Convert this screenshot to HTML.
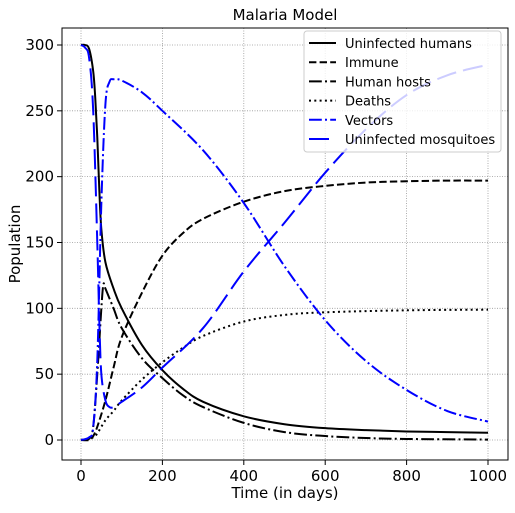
<!DOCTYPE html>
<html><head><meta charset="utf-8"><style>
body{margin:0;background:#fff;}
svg{font-family:"DejaVu Sans","Liberation Sans",sans-serif;}
</style></head><body>
<svg id="chart" width="515" height="508" xmlns="http://www.w3.org/2000/svg">
<rect width="515" height="508" fill="#fff"/>
<text x="285" y="20" font-size="15" text-anchor="middle">Malaria Model</text>
<g id="grid"></g>
<g id="series"></g>
<rect x="62" y="28" width="446" height="432" fill="none" stroke="#000" stroke-width="1"/>
<g id="ticks"></g>
<text x="285" y="498" font-size="15" text-anchor="middle">Time (in days)</text>
<text transform="translate(20,244) rotate(-90)" font-size="15" text-anchor="middle">Population</text>
<g id="legend">
<rect x="304" y="31" width="197" height="121" rx="3" fill="#fff" fill-opacity="0.8" stroke="#ccc"/>
</g>
</svg>
<script>
const xTicks=[0,200,400,600,800,1000];
const yTicks=[0,50,100,150,200,250,300];
const seriesNames=["Uninfected humans","Immune","Human hosts","Deaths","Vectors","Uninfected mosquitoes"];
const uninfDays=[0,10,20,30,35,40,45,50,60,80,100,150,200,250,300,400,500,600,700,800,900,1000];
const uninfVals=[300,300,297,280,260,230,190,160,135,115,100,72,53,39,29,18,12,9,7.5,6.5,6,5.5];
const immuneDays=[0,20,30,40,60,80,100,150,200,250,300,400,500,600,700,800,900,1000];
const immuneVals=[0,0,3,10,30,55,78,112,140,157,168,181,189,193,195.5,196.5,197,197];
const hostDays=[0,20,30,40,50,55,60,80,100,150,200,250,300,400,500,600,700,800,1000];
const hostVals=[0,1,10,50,100,118,115,100,85,62,47,34,25,13,6,3,1.5,0.8,0.3];
const deathDays=[0,30,40,60,80,100,150,200,250,300,400,500,600,800,1000];
const deathVals=[0,2,5,15,22,30,46,59,70,79,90,95,97,98.5,99];
const vecDays=[0,20,30,40,50,60,70,80,100,150,200,300,400,500,600,700,800,900,1000];
const vecVals=[0,2,10,60,180,255,272,274,273,264,250,220,180,132,91,60,38,22,14];
const mosqDays=[0,10,20,30,40,45,50,60,70,80,100,150,200,300,400,500,600,700,800,900,1000];
const mosqVals=[300,298,290,250,150,90,50,30,25,25,29,40,55,85,128,165,203,236,262,277,285];

const X=d=>81+d*0.407, Y=v=>440-v*1.3167;
const NS="http://www.w3.org/2000/svg";
function mk(t,a,p){const e=document.createElementNS(NS,t);for(const k in a)e.setAttribute(k,a[k]);p.appendChild(e);return e;}
const grid=document.getElementById('grid'),ticks=document.getElementById('ticks');
xTicks.forEach(t=>{
 const g=mk('line',{x1:X(t),x2:X(t),y1:28,y2:460,stroke:'#999','stroke-width':0.8,'stroke-dasharray':'1,1.5'},grid);
 
 
 const tk=mk('line',{x1:X(t),x2:X(t),y1:460,y2:465,stroke:'#000'},ticks);
 
 
 const tx=mk('text',{x:X(t),y:481,'font-size':15,'text-anchor':'middle'},ticks);tx.textContent=t;
 
 
});
yTicks.forEach(t=>{
 const g=mk('line',{x1:62,x2:508,y1:Y(t),y2:Y(t),stroke:'#999','stroke-width':0.8,'stroke-dasharray':'1,1.5'},grid);
 
 
 const tk=mk('line',{x1:57,x2:62,y1:Y(t),y2:Y(t),stroke:'#000'},ticks);
 
 
 const tx=mk('text',{x:54,y:Y(t)+5,'font-size':15,'text-anchor':'end'},ticks);tx.textContent=t;
 
 
});
const styles=[['#000',''],['#000','7.4,3.2'],['#000','12.8,3.2,2,3.2'],['#000','2,3.3'],['#0000ff','12.8,3.2,2,3.2'],['#0000ff','20,7']];
const data=[[uninfDays,uninfVals],[immuneDays,immuneVals],[hostDays,hostVals],[deathDays,deathVals],[vecDays,vecVals],[mosqDays,mosqVals]];
const ids=['uninfected-humans','immune','human-hosts','deaths','vectors','uninfected-mosquitoes'];
const ser=document.getElementById('series'),leg=document.getElementById('legend');
data.forEach((s,i)=>{
 const pts=s[0].map((d,j)=>[X(d),Y(s[1][j])]);
 let dstr='M'+pts[0][0]+','+pts[0][1];
 for(let j=0;j<pts.length-1;j++){
  const p0=pts[Math.max(0,j-1)],p1=pts[j],p2=pts[j+1],p3=pts[Math.min(pts.length-1,j+2)];
  const c1=[p1[0]+(p2[0]-p0[0])/6,p1[1]+(p2[1]-p0[1])/6],c2=[p2[0]-(p3[0]-p1[0])/6,p2[1]-(p3[1]-p1[1])/6];
  dstr+=' C'+c1+' '+c2+' '+p2;
 }
 const a={d:dstr,fill:'none',stroke:styles[i][0],'stroke-width':2};
 if(styles[i][1])a['stroke-dasharray']=styles[i][1];
 const p=mk('path',a,ser);
 
 
 const y=43+i*19.2;
 const la={x1:309,x2:336,y1:y,y2:y,stroke:styles[i][0],'stroke-width':2};
 if(styles[i][1])la['stroke-dasharray']=styles[i][1];
 const ll=mk('line',la,leg);
 
 
 const lt=mk('text',{x:345,y:y+5,'font-size':13},leg);lt.textContent=seriesNames[i];
 
 
});
</script>
</body></html>
